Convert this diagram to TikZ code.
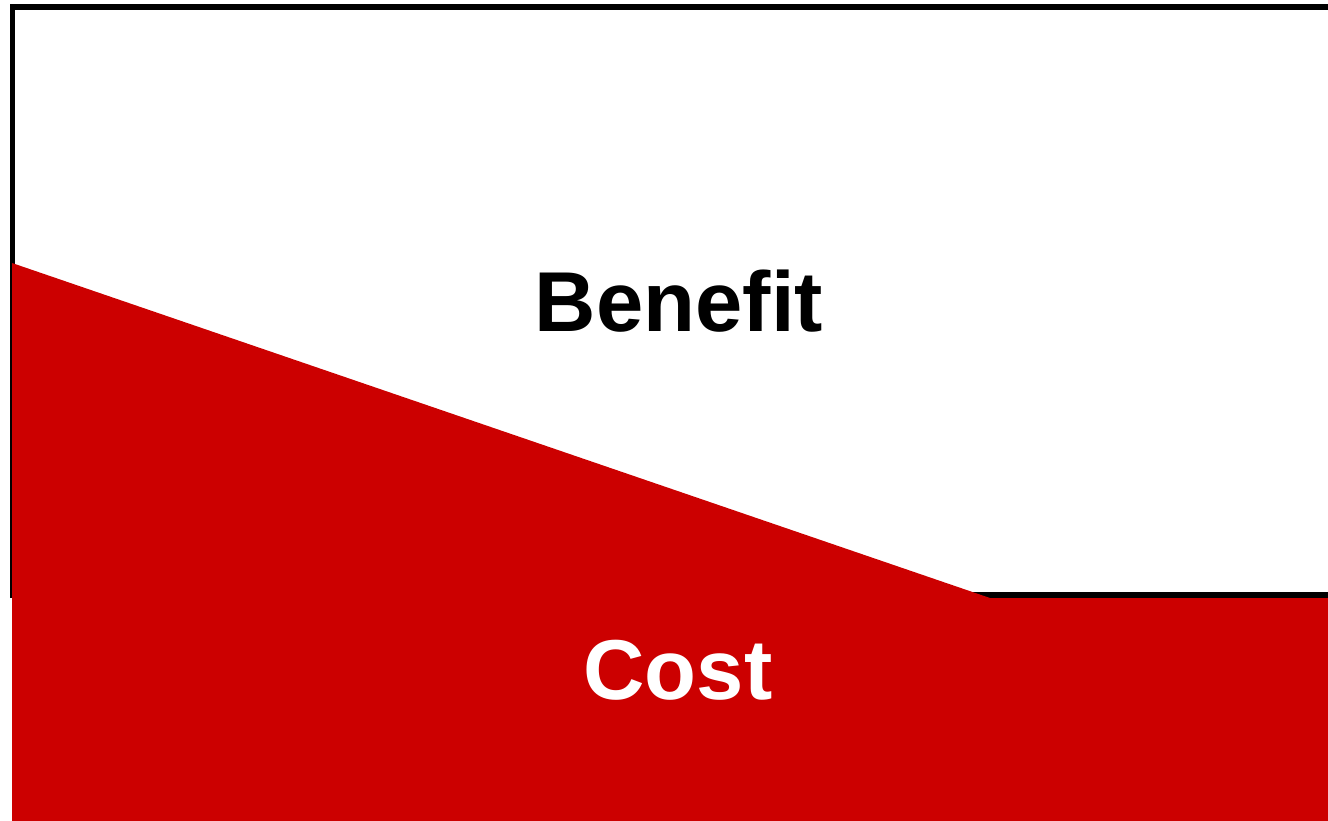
\documentclass[tikz,border=0pt]{standalone}
\usepackage{fontspec}
\setmainfont{Liberation Sans}
\definecolor{costred}{HTML}{CC0000}
\begin{document}
\begin{tikzpicture}[x=1pt,y=-1pt,
  frame/.style={draw=black,line width=5.5pt,fill=white},
  costarea/.style={fill=costred,draw=none},
  bigtext/.style={font=\fontsize{85}{100}\selectfont\bfseries,inner sep=0pt}]
\useasboundingbox (0,0) rectangle (1328,820);
\clip (0,0) rectangle (1328,820);
\draw[frame] (12.3,7) rectangle (1340,595);
\fill[costarea] (12,263) -- (990,598) -- (1340,598) -- (1340,830) -- (12,830) -- cycle;
\node[bigtext,text=black] (benefit) at (679,301) {Benefit};
\node[bigtext,text=white] (cost) at (678,670) {Cost};
\end{tikzpicture}
\end{document}
